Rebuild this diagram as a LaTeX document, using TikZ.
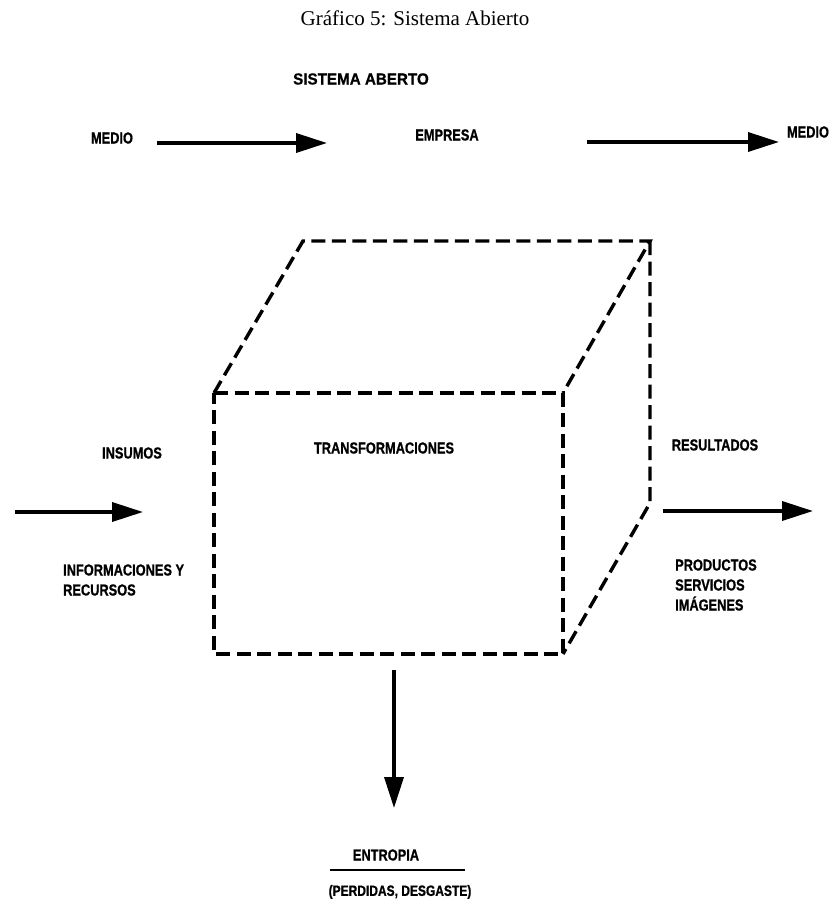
\documentclass[tikz,border=0pt]{standalone}
\usepackage{fontspec}
\setmainfont{Liberation Serif}
\newfontfamily\capsfont[FakeStretch=0.8, FakeBold=0.8]{Liberation Sans}
\newfontfamily\headfont[FakeStretch=0.95, FakeBold=0.8]{Liberation Sans}
\usetikzlibrary{arrows.meta, positioning}

\begin{document}
\begin{tikzpicture}[x=1pt, y=-1pt,
  lbl/.style={font=\capsfont\bfseries\fontsize{16}{20}\selectfont, inner sep=0pt, align=left},
  flow/.style={line width=3.6pt, -{Triangle[length=31pt, width=19pt]}},
  edge/.style={line width=3.4pt, dash pattern=on 14pt off 6.5pt},
]
  \useasboundingbox (0,0) rectangle (831,899);

  \node[font=\fontsize{21}{25}\selectfont] (title) at (415,18) {Gráfico 5: Sistema Abierto};
  \node[font=\headfont\bfseries\fontsize{16}{20}\selectfont, inner sep=0pt] (sistema) at (361,79) {SISTEMA ABERTO};

  % medio -> empresa -> medio
  \node[lbl] (medioin) at (112,138) {MEDIO};
  \node[lbl] (empresa) at (447,135) {EMPRESA};
  \node[lbl] (medioout) at (808,132) {MEDIO};
  \coordinate (a1) at (157,143);
  \coordinate (a2) at (327,143);
  \coordinate (b1) at (587,142);
  \coordinate (b2) at (779,142);
  \draw[flow] (a1) -- (a2);
  \draw[flow] (b1) -- (b2);

  % the box
  \coordinate (ftl) at (214,393);
  \coordinate (ftr) at (563,393);
  \coordinate (fbr) at (563,654);
  \coordinate (fbl) at (214,654);
  \coordinate (btl) at (303,241);
  \coordinate (btr) at (650,241);
  \coordinate (bbr) at (650,503);
  \draw[edge] (ftl) -- (ftr) -- (fbr) -- (fbl) -- cycle;
  \draw[edge] (ftl) -- (btl) -- (btr) -- (ftr);
  \draw[edge] (btr) -- (bbr) -- (fbr);
  \node[lbl] (transf) at (384,448) {TRANSFORMACIONES};

  % entradas
  \node[lbl] (insumos) at (132,453) {INSUMOS};
  \node[lbl, anchor=west] (recursos) at (63,580) {INFORMACIONES Y\\RECURSOS};
  \coordinate (c1) at (15,512);
  \coordinate (c2) at (143,512);
  \draw[flow] (c1) -- (c2);

  % salidas
  \node[lbl] (result) at (715,445) {RESULTADOS};
  \node[lbl, anchor=west] (productos) at (675,585) {PRODUCTOS\\SERVICIOS\\IMÁGENES};
  \coordinate (d1) at (663,511);
  \coordinate (d2) at (813,511);
  \draw[flow] (d1) -- (d2);

  % entropia
  \coordinate (e1) at (394,670);
  \coordinate (e2) at (394,808);
  \draw[flow] (e1) -- (e2);
  \node[lbl] (entropia) at (386,855) {ENTROPIA};
  \node[lbl, font=\capsfont\bfseries\fontsize{15}{18}\selectfont] (perdidas) at (400,892) {(PERDIDAS, DESGASTE)};
  \coordinate (u1) at (330,870);
  \coordinate (u2) at (465,870);
  \draw[line width=2pt] (u1) -- (u2);
\end{tikzpicture}
\end{document}
